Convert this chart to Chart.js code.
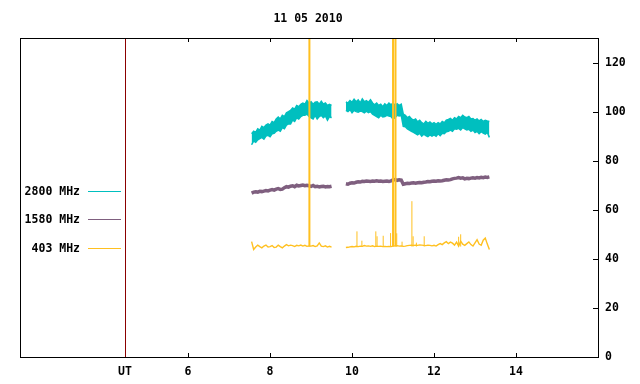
<!DOCTYPE html>
<html>
<head>
  <meta charset="UTF-8">
  <title>11 05 2010</title>
  <script src="https://cdn.jsdelivr.net/npm/chart.js"></script>
  <style>
    body { margin: 0; background: #fff; }
    canvas { display: block; }
  </style>
</head>
<body>
  <canvas id="radio" width="640" height="384"></canvas>
  <script>
    const titulo = "11 05 2010";
    const xMin = 1.9, xMax = 16;
    const utHour = 4.46;
    const xTicks = [6, 8, 10, 12, 14];
    const yTicks = [0, 20, 40, 60, 80, 100, 120];
    const yMax = 130;
    const labels = ["2800 MHz", "1580 MHz", "403 MHz"];
    const colores = ["#00bfbf", "#7f5f7f", "#ffc020"];

    // first block of observations
    const hoursA = [7.55, 7.60, 7.65, 7.70, 7.75, 7.80, 7.85, 7.90, 7.95,
      8.00, 8.05, 8.10, 8.15, 8.20, 8.25, 8.30, 8.35, 8.40, 8.45, 8.50, 8.55, 8.60, 8.65, 8.70, 8.75, 8.80, 8.85, 8.90, 8.95,
      9.00, 9.05, 9.10, 9.15, 9.20, 9.25, 9.30, 9.35, 9.40, 9.45, 9.50];
    const tealHiA = [91.0, 92.0, 91.5, 93.0, 92.5, 94.0, 93.5, 94.5, 95.0,
      94.5, 96.0, 95.5, 97.0, 97.8, 97.0, 98.5, 98.0, 99.5, 100.0, 100.5, 101.5, 101.0, 102.5, 102.0, 103.0, 103.5, 103.0, 104.5, 103.5,
      104.0, 103.0, 103.8, 104.0, 103.0, 104.2, 103.0, 103.5, 102.5, 103.0, 102.5];
    const tealLoA = [86.5, 88.0, 87.5, 88.5, 89.0, 89.5, 88.8, 90.0, 90.3,
      89.8, 91.0, 91.2, 92.0, 92.5, 92.0, 93.5, 93.0, 94.5, 95.0, 95.0, 96.5, 96.0, 97.5, 97.0, 98.0, 98.5, 98.5, 99.0, 98.0,
      97.5, 97.0, 98.5, 97.0, 98.0, 98.5, 97.5, 98.2, 96.5, 98.0, 97.5];
    const purpleA = [66.8, 67.2, 67.3, 67.2, 67.5, 67.4, 67.6, 67.8, 67.7,
      68.0, 68.2, 68.0, 68.4, 68.6, 68.3, 68.4, 69.0, 69.4, 69.2, 69.6, 69.8, 69.4, 70.0, 69.7, 69.9, 70.1, 69.8, 70.0, 69.8,
      69.5, 69.9, 69.4, 69.6, 69.3, 69.5, 69.6, 69.3, 69.5, 69.4, 69.6];
    const yellowA = [47.0, 43.8, 44.8, 45.6, 45.0, 44.5, 45.2, 45.6, 44.8,
      45.0, 45.4, 44.6, 44.8, 45.6, 45.0, 44.5, 45.2, 45.8, 45.3, 45.6, 45.4, 45.0, 45.5, 45.3, 45.6, 45.2, 45.5, 45.1, 45.3,
      45.2, 45.4, 45.0, 45.3, 46.5, 45.2, 45.0, 45.3, 44.8, 45.1, 44.8];

    // second block of observations
    const hoursB = [9.85, 9.90, 9.95,
      10.00, 10.05, 10.10, 10.15, 10.20, 10.25, 10.30, 10.35, 10.40, 10.45, 10.50, 10.55, 10.60, 10.65, 10.70, 10.75, 10.80, 10.85, 10.90, 10.95,
      11.00, 11.05, 11.10, 11.15, 11.20, 11.25, 11.30, 11.35, 11.40, 11.45, 11.50, 11.55, 11.60, 11.65, 11.70, 11.75, 11.80, 11.85, 11.90, 11.95,
      12.00, 12.05, 12.10, 12.15, 12.20, 12.25, 12.30, 12.35, 12.40, 12.45, 12.50, 12.55, 12.60, 12.65, 12.70, 12.75, 12.80, 12.85, 12.90, 12.95,
      13.00, 13.05, 13.10, 13.15, 13.20, 13.25, 13.30, 13.35];
    const tealHiB = [104.0, 103.5, 104.5,
      103.8, 105.0, 104.0, 104.8, 103.5, 105.2, 104.0, 104.5, 103.8, 104.8, 103.5, 102.8, 103.5, 102.5, 103.0, 102.0, 103.2, 102.5, 103.5, 102.8,
      103.5, 102.5, 103.2, 102.5, 103.0, 99.0, 98.5, 97.5, 98.0, 97.0, 96.5, 97.0, 95.8, 96.5, 95.5, 95.0, 96.0, 95.2, 95.8, 95.0,
      95.5, 94.8, 95.5, 95.0, 96.0, 95.5, 96.5, 96.8, 97.2, 96.5, 97.5, 97.0, 98.0, 97.5, 98.5, 97.8, 97.5, 98.0, 97.0, 97.2,
      96.5, 97.0, 96.2, 96.8, 96.0, 96.5, 96.2, 96.0];
    const tealLoB = [100.5, 100.0, 100.8,
      99.5, 100.5, 100.0, 99.8, 100.2, 100.0, 99.5, 100.2, 99.6, 100.0, 99.0, 98.5, 98.0, 97.5, 98.5, 97.8, 98.0, 98.5, 98.2, 98.0,
      97.0, 97.5, 98.5, 98.2, 98.5, 94.0, 93.8, 93.0, 92.5, 92.0, 91.5, 91.0, 90.5, 91.2, 90.0, 90.8, 90.2, 89.8, 90.5, 90.0,
      90.5, 90.0, 91.0, 90.2, 91.2, 91.0, 91.8, 92.0, 92.5, 92.0, 93.0, 92.8, 93.2, 92.5, 93.5, 93.0, 92.5, 92.8, 92.0, 92.5,
      91.5, 92.0, 91.0, 91.8, 91.2, 90.8, 91.5, 89.5];
    const purpleB = [70.6, 70.4, 70.8,
      71.0, 70.9, 71.2, 71.4, 71.3, 71.6, 71.5, 71.7, 71.6, 71.5, 71.7, 71.6, 71.8, 71.6, 71.7, 71.5, 71.6, 71.7, 71.5, 71.8,
      72.2, 72.3, 72.0, 72.2, 72.1, 70.4, 70.6, 70.8, 70.7, 70.9, 71.0, 70.8, 71.0, 71.1, 71.0, 71.2, 71.3, 71.5, 71.4, 71.6,
      71.7, 71.6, 71.8, 71.7, 71.8, 72.0, 72.2, 72.1, 72.3, 72.6, 72.8, 72.9, 73.1, 72.9, 73.0, 72.6, 72.8, 72.7, 72.9, 73.0,
      72.9, 73.1, 73.0, 73.2, 73.1, 73.3, 73.2, 73.4];
    const yellowB = [44.6, 44.7, 44.9,
      45.0, 44.9, 45.1, 45.0, 45.2, 45.1, 45.4, 45.2, 45.3, 45.1, 45.3, 45.0, 45.2, 45.1, 45.2, 45.0, 45.1, 45.0, 45.1, 45.0,
      45.2, 45.3, 45.4, 45.2, 45.3, 45.1, 45.2, 45.4, 45.5, 45.6, 45.5, 45.6, 45.5, 45.7, 45.6, 45.5, 45.4, 45.6, 45.5, 45.3,
      45.5, 45.2, 45.8, 46.2, 45.8, 46.5, 47.0, 46.2, 46.8, 46.4, 45.6, 46.8, 45.2, 47.2, 46.0, 45.5, 46.2, 46.9, 45.8, 45.2,
      46.5, 47.8, 46.0, 45.5, 47.6, 48.5, 46.0, 43.8];

    // 403 MHz bursts
    const bigSpikeHours = [8.96, 11.00, 11.06];
    const bigSpikeTops = [140, 140, 140];
    const spikeHours = [10.12, 10.24, 10.58, 10.61, 10.76, 10.94, 11.09, 11.22, 11.46, 11.49, 11.57, 11.76, 12.60, 12.65];
    const spikeTops = [51.2, 47.4, 51.2, 49.2, 49.4, 50.5, 50.4, 47.0, 63.5, 49.2, 46.6, 49.2, 49.0, 50.0];
    const spikeBase = 45;

    const FONT = { family: "'DejaVu Sans Mono', monospace", size: 11.5, weight: 'bold' };

    function pts(hours, vals) {
      return hours.map((h, i) => ({ x: h, y: vals[i] }));
    }
    function spikes(hours, tops) {
      const out = [];
      hours.forEach((h, i) => {
        out.push({ x: h, y: spikeBase }, { x: h, y: tops[i] }, { x: h, y: null });
      });
      return out;
    }
    function linea(data, color, width, extra) {
      return Object.assign({
        data: data, borderColor: color, backgroundColor: color,
        borderWidth: width, pointRadius: 0, tension: 0, fill: false, spanGaps: false
      }, extra || {});
    }

    const marco = {
      id: 'marco',
      beforeDatasetsDraw(chart) {
        const { ctx, chartArea: a, scales } = chart;
        const ux = scales.x.getPixelForValue(utHour);
        ctx.save();
        ctx.strokeStyle = '#8b0000';
        ctx.lineWidth = 1;
        ctx.beginPath();
        ctx.moveTo(Math.round(ux) + 0.5, a.top);
        ctx.lineTo(Math.round(ux) + 0.5, a.bottom);
        ctx.stroke();
        ctx.restore();
      },
      afterDraw(chart) {
        const { ctx, chartArea: a, scales } = chart;
        ctx.save();
        ctx.strokeStyle = '#000';
        ctx.lineWidth = 1;
        ctx.strokeRect(Math.round(a.left) + 0.5, Math.round(a.top) + 0.5,
          Math.round(a.right - a.left), Math.round(a.bottom - a.top));
        ctx.beginPath();
        xTicks.forEach(v => {
          const px = Math.round(scales.x.getPixelForValue(v)) + 0.5;
          ctx.moveTo(px, a.bottom); ctx.lineTo(px, a.bottom - 4);
          ctx.moveTo(px, a.top); ctx.lineTo(px, a.top + 4);
        });
        yTicks.forEach(v => {
          const py = Math.round(scales.y.getPixelForValue(v)) + 0.5;
          ctx.moveTo(a.right, py); ctx.lineTo(a.right - 5, py);
        });
        ctx.stroke();

        // title
        ctx.fillStyle = '#000';
        ctx.font = `bold ${FONT.size}px ${FONT.family}`;
        ctx.textAlign = 'center';
        ctx.textBaseline = 'middle';
        ctx.fillText(titulo, 308, 19);

        // legend
        const ys = [192, 220, 249];
        ctx.textAlign = 'right';
        labels.forEach((t, i) => {
          ctx.fillStyle = '#000';
          ctx.fillText(t, 80, ys[i]);
          ctx.strokeStyle = colores[i];
          ctx.beginPath();
          ctx.moveTo(88, ys[i] - 0.5);
          ctx.lineTo(121, ys[i] - 0.5);
          ctx.stroke();
        });
        ctx.restore();
      }
    };

    new Chart(document.getElementById('radio'), {
      type: 'line',
      data: {
        datasets: [
          linea(spikes(bigSpikeHours, bigSpikeTops), colores[2], 2),
          linea(spikes(spikeHours, spikeTops), colores[2], 1),
          linea(pts(hoursA, yellowA), colores[2], 1.4),
          linea(pts(hoursB, yellowB), colores[2], 1.4),
          linea(pts(hoursA, purpleA), colores[1], 3.5),
          linea(pts(hoursB, purpleB), colores[1], 3.5),
          linea(pts(hoursA, tealHiA), colores[0], 1.5, { fill: '+1' }),
          linea(pts(hoursA, tealLoA), colores[0], 1.5),
          linea(pts(hoursB, tealHiB), colores[0], 1.5, { fill: '+1' }),
          linea(pts(hoursB, tealLoB), colores[0], 1.5)
        ]
      },
      options: {
        responsive: false,
        animation: false,
        devicePixelRatio: 1,
        layout: { padding: { left: 20, top: 38, right: 0, bottom: 0 } },
        plugins: { legend: { display: false }, tooltip: { enabled: false }, title: { display: false } },
        scales: {
          x: {
            type: 'linear', min: xMin, max: xMax,
            grid: { display: false, drawTicks: false },
            border: { display: false },
            afterFit: s => { s.height = 27; },
            afterBuildTicks: s => { s.ticks = [{ value: utHour }].concat(xTicks.map(v => ({ value: v }))); },
            ticks: {
              color: '#000', font: FONT, padding: 8, maxRotation: 0, autoSkip: false,
              callback: v => v === utHour ? 'UT' : String(v)
            }
          },
          y: {
            type: 'linear', position: 'right', min: 0, max: yMax,
            grid: { display: false, drawTicks: false },
            border: { display: false },
            afterFit: s => { s.width = 42; },
            afterBuildTicks: s => { s.ticks = yTicks.map(v => ({ value: v })); },
            ticks: { color: '#000', font: FONT, padding: 7, crossAlign: 'near', callback: v => String(v) }
          }
        }
      },
      plugins: [marco]
    });
  </script>
</body>
</html>
